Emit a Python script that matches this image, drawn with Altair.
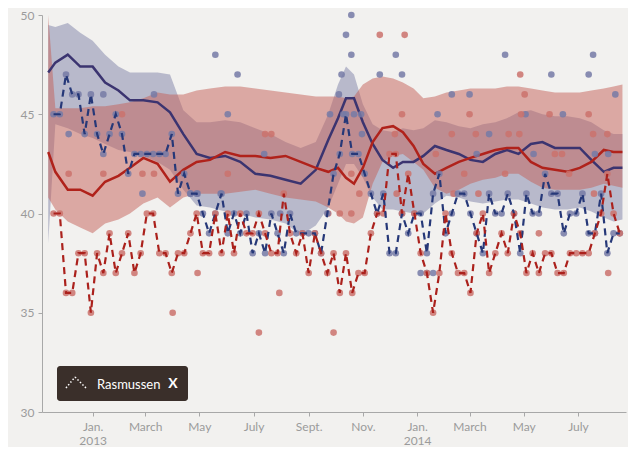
import altair as alt
import pandas as pd

# ---------------- data ----------------
trend_dates = ["2012-11-12","2012-11-20","2012-12-04","2012-12-18","2013-01-01","2013-01-15","2013-01-30",
               "2013-02-12","2013-02-27","2013-03-15","2013-03-29","2013-04-13","2013-04-28","2013-05-13",
               "2013-05-30","2013-06-16","2013-07-03","2013-07-20","2013-08-06","2013-08-23","2013-09-09",
               "2013-09-23","2013-10-04","2013-10-13","2013-10-22","2013-11-01","2013-11-12","2013-11-23",
               "2013-12-05","2013-12-16","2013-12-28","2014-01-08","2014-01-21","2014-02-03","2014-02-17",
               "2014-03-02","2014-03-16","2014-03-30","2014-04-12","2014-04-25","2014-05-09","2014-05-22",
               "2014-06-05","2014-06-19","2014-07-03","2014-07-16","2014-07-30","2014-08-10","2014-08-20"]

dem_trend = [47.1,47.6,48.0,47.4,47.4,46.6,46.2,45.7,45.7,45.6,
             45.1,44.0,43.0,42.8,42.9,42.6,42.0,41.9,41.7,41.5,
             42.2,43.7,44.8,45.8,45.8,44.6,43.5,42.7,42.3,42.6,
             42.6,42.9,43.4,43.2,43.0,42.7,42.6,43.0,43.2,43.0,
             43.5,43.6,43.3,43.3,43.3,42.7,42.1,42.3,42.3]
rep_trend = [43.1,42.1,41.2,41.2,40.9,41.6,41.9,42.3,42.8,42.5,
             41.6,42.2,42.6,42.7,43.1,42.9,42.9,42.8,42.9,42.6,
             42.3,42.1,42.3,41.8,41.5,42.3,43.6,44.3,44.4,44.1,
             43.4,42.5,42.0,42.3,42.6,42.8,43.0,43.2,43.3,43.3,
             42.6,42.3,42.2,42.1,42.3,42.6,43.2,43.1,43.1]
dem_hi = [49.5,49.4,49.6,49.1,48.7,48.0,47.4,47.1,47.1,47.1,
          47.0,45.2,44.6,44.6,44.7,44.6,44.3,44.0,43.6,43.3,
          43.6,45.0,46.5,47.4,47.0,45.5,44.5,44.2,44.1,44.3,
          44.2,44.3,44.7,44.6,44.4,44.3,44.5,44.6,44.8,45.1,
          45.2,45.0,44.9,44.9,44.8,44.6,44.2,44.0,44.0]
dem_lo = [38.5,44.5,44.3,44.0,43.8,43.5,43.2,43.1,42.9,42.6,
          42.2,41.2,40.4,40.3,40.1,40.0,39.8,39.7,39.5,38.9,
          39.4,40.3,41.5,42.5,42.5,41.8,40.8,40.2,40.2,40.1,
          40.0,40.0,40.5,40.9,40.8,40.6,40.5,40.6,40.7,40.7,
          40.5,40.3,40.2,40.2,40.3,40.1,39.8,39.6,39.7]
rep_hi = [50.0,45.3,45.3,45.3,45.4,45.4,45.5,45.6,45.8,46.1,
          46.0,46.0,46.2,46.3,46.4,46.4,46.3,46.2,46.1,46.0,
          45.9,45.9,45.9,45.8,45.9,46.5,46.8,46.9,46.8,46.6,
          46.3,45.8,45.9,46.1,46.2,46.3,46.3,46.3,46.4,46.4,
          46.3,46.2,46.1,46.1,46.1,46.2,46.3,46.4,46.5]
rep_lo = [40.8,40.2,39.6,39.3,39.0,39.5,39.7,40.0,40.5,40.8,
          40.3,40.8,41.0,41.0,41.0,41.1,41.2,41.0,40.8,40.7,
          40.6,40.3,40.0,39.6,39.5,39.8,41.5,42.6,42.9,43.0,
          42.6,42.2,41.3,41.0,41.2,41.5,41.7,41.8,42.0,42.0,
          41.6,41.3,41.2,41.2,41.2,41.3,41.5,41.4,41.3]

# Rasmussen weekly tracking poll (first week 2012-11-18)
ras_start = "2012-11-18"
ras_dem = [45,45,47,46,46,44,46,44,43,44,45,44,42,43,43,43,43,43,43,44,41,42,41,
           41,40,39,40,41,39,40,39,40,38,39,38,40,39,38,40,39,39,39,39,38,40,
           42,43,45,43,43,42,41,40,41,38,38,40,39,40,40,38,41,42,39,40,41,41,40,39,
           38,41,40,40,41,40,38,41,40,40,42,41,41,39,40,40,41,39,39,41,38,39,39]
ras_rep = [40,40,36,36,38,38,35,38,37,39,37,38,39,37,38,40,40,38,38,37,38,38,39,
           40,38,38,40,38,40,38,40,39,39,40,39,38,38,41,39,38,39,37,39,38,
           37,38,36,38,36,37,37,39,40,40,43,43,40,42,40,38,37,35,37,40,
           38,37,37,36,39,40,37,38,39,38,40,39,37,38,37,38,38,37,37,38,
           38,38,38,39,40,42,40,39]

# other pollsters
dem_other_dates = ["2012-12-05","2013-01-13","2013-03-11","2013-02-26","2013-05-19","2013-06-13","2013-06-02",
                   "2013-07-13","2013-04-21","2013-04-29","2013-05-25","2013-07-31","2013-09-25","2013-10-05",
                   "2013-10-08","2013-10-13","2013-10-19","2013-10-19","2013-10-31","2013-11-20","2013-12-08",
                   "2013-12-15","2014-01-24","2014-02-09","2014-03-01","2014-03-09","2014-03-23","2014-04-10",
                   "2014-05-03","2014-05-12","2014-06-01","2014-06-14","2014-07-13","2014-07-18","2014-07-20",
                   "2014-08-04","2014-08-12","2014-01-05","2014-01-12","2014-01-19","2013-10-10","2013-10-22",
                   "2013-10-30"]
dem_other_vals = [44,46,46,41,48,47,45,43,41,41,41,40,45,46,47,49,50,48,44,47,48,47,45,46,46,43,44,48,
                  45,43,47,45,47,48,43,43,46,37,37,37,45,45,45]
rep_other_dates = ["2013-02-03","2013-07-14","2013-07-21","2012-12-05","2013-01-13","2013-02-26","2013-03-11",
                   "2013-06-02","2013-04-01","2013-04-29","2013-07-07","2013-07-30","2013-09-29","2013-11-20",
                   "2013-12-18","2014-04-27","2014-05-02","2013-12-15","2014-03-01","2014-04-28","2014-05-30",
                   "2014-07-13","2013-12-07","2014-02-09","2014-03-08","2014-04-14","2014-04-26","2014-07-18",
                   "2014-08-03","2014-01-22","2014-06-05","2014-06-13","2013-10-19","2014-02-23","2014-04-10",
                   "2014-06-21","2013-10-28","2013-12-09","2014-02-11","2014-03-11","2014-07-19","2013-09-23",
                   "2013-10-06","2013-10-19","2014-08-04","2014-05-18"]
rep_other_vals = [45,44,44,42,42,42,42,42,35,37,34,36,34,49,49,47,46,45,45,45,45,45,44,44,44,44,44,44,
                  44,43,43,43,42,42,42,42,41,41,41,41,41,40,40,40,37,39]

month_labels = ["Jan.","Feb.","March","April","May","June","July","Aug.","Sept.","Oct.","Nov.","Dec."]

# ---------------- tables ----------------
trend = pd.DataFrame({"date": trend_dates, "dem": dem_trend, "rep": rep_trend,
                      "dem_lo": dem_lo, "dem_hi": dem_hi, "rep_lo": rep_lo, "rep_hi": rep_hi})
ras_dates = pd.date_range(ras_start, periods=len(ras_dem), freq="7D").strftime("%Y-%m-%d").tolist()
ras = pd.DataFrame({"date": ras_dates, "dem": ras_dem, "rep": ras_rep})
dots = pd.concat([
    pd.DataFrame({"date": dem_other_dates, "v": dem_other_vals, "party": "Dem"}),
    pd.DataFrame({"date": rep_other_dates, "v": rep_other_vals, "party": "Rep"}),
    pd.DataFrame({"date": ras_dates, "v": ras_dem, "party": "Dem"}),
    pd.DataFrame({"date": ras_dates, "v": ras_rep, "party": "Rep"}),
], ignore_index=True)

FONT = "Lato"
xscale = alt.Scale(type="utc", domain=[alt.DateTime(year=2012, month=11, date=5, utc=True),
                                       alt.DateTime(year=2014, month=8, date=24, utc=True)])
tick_vals = [alt.DateTime(year=y, month=m, date=1, utc=True)
             for (y, m) in [(2013,1),(2013,3),(2013,5),(2013,7),(2013,9),(2013,11),
                            (2014,1),(2014,3),(2014,5),(2014,7)]]
label_expr = ("utcmonth(datum.value) == 0 ? ['Jan.', '' + utcyear(datum.value)] : "
              "['" + "','".join(month_labels) + "'][utcmonth(datum.value)]")
xaxis = alt.Axis(values=tick_vals, labelExpr=label_expr, tickSize=4, labelPadding=5,
                 labelLineHeight=14, labelAlign="center", title=None)
yscale = alt.Scale(domain=[30, 50], nice=False, zero=False)
yaxis = alt.Axis(values=[30, 35, 40, 45, 50], tickSize=4, labelPadding=4, title=None)

def X():
    return alt.X("date:T", scale=xscale, axis=xaxis, title=None)

def Y(f):
    return alt.Y(f"{f}:Q", scale=yscale, axis=yaxis, title=None)

base = alt.Chart(trend)
band_dem = base.mark_area(color="#70759f", opacity=0.45).encode(x=X(), y=Y("dem_lo"), y2="dem_hi")
band_rep = base.mark_area(color="#c35f57", opacity=0.5).encode(x=X(), y=Y("rep_lo"), y2="rep_hi")
line_dem = base.mark_line(color="#3b3470", strokeWidth=2.5).encode(x=X(), y=Y("dem"))
line_rep = base.mark_line(color="#b0221b", strokeWidth=2.5).encode(x=X(), y=Y("rep"))

pts = alt.Chart(dots).mark_circle(size=44, opacity=0.85).encode(
    x=X(), y=Y("v"),
    color=alt.Color("party:N", scale=alt.Scale(domain=["Dem", "Rep"], range=["#767aa6", "#cb726c"]),
                    legend=None))

rbase = alt.Chart(ras)
dash_dem = rbase.mark_line(color="#263878", strokeWidth=2.2, strokeDash=[7, 5]).encode(x=X(), y=Y("dem"))
dash_rep = rbase.mark_line(color="#ab211c", strokeWidth=2.2, strokeDash=[7, 5]).encode(x=X(), y=Y("rep"))

one = pd.DataFrame({"a": [0]})
box = alt.Chart(one).mark_rect(color="#3a2f2a", cornerRadius=3).encode(
    x=alt.value(15), x2=alt.value(146), y=alt.value(351), y2=alt.value(386))
icon1 = alt.Chart(one).mark_rule(color="white", strokeWidth=1.5, strokeDash=[1.5, 2]).encode(
    x=alt.value(24), y=alt.value(373), x2=alt.value(33), y2=alt.value(362))
icon2 = alt.Chart(one).mark_rule(color="white", strokeWidth=1.5, strokeDash=[1.5, 2]).encode(
    x=alt.value(33), y=alt.value(362), x2=alt.value(45), y2=alt.value(374))
txt = alt.Chart(one).mark_text(text="Rasmussen", color="white", font=FONT, fontSize=13,
                               align="left", baseline="middle").encode(x=alt.value(55), y=alt.value(370))
xbtn = alt.Chart(one).mark_text(text="X", color="white", font=FONT, fontSize=14, fontWeight="bold",
                                align="center", baseline="middle").encode(x=alt.value(131), y=alt.value(369))

chart = alt.layer(band_dem, band_rep, line_dem, line_rep, pts, dash_dem, dash_rep,
                  box, icon1, icon2, txt, xbtn).properties(
    width=584, height=397,
    autosize=alt.AutoSizeParams(type="none"),
    padding={"left": 34, "top": 7, "right": 2, "bottom": 35},
    background="#f2f1ef",
).configure_view(stroke=None).configure_axis(
    grid=False, domainColor="#a8a8a8", tickColor="#a8a8a8", labelColor="#9b9b9b",
    labelFont=FONT, labelFontSize=12)

chart.save("out.html", embed_options={"renderer": "svg", "actions": False})
